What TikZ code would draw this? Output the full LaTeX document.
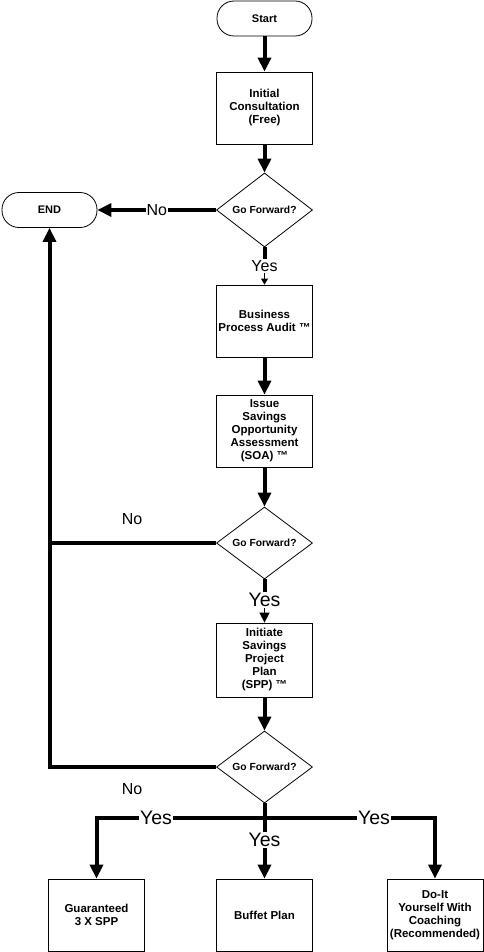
\documentclass[tikz,border=0pt]{standalone}
\usepackage{fontspec}
\setmainfont{Liberation Sans}
\usetikzlibrary{shapes.geometric,arrows.meta}
\begin{document}
\begin{tikzpicture}[x=1pt,y=-1pt,
  box/.style={draw, line width=0.8pt, minimum width=96pt, minimum height=72pt, inner sep=1pt, align=center, font=\fontsize{11.5}{13}\selectfont\bfseries},
  term/.style={draw, line width=0.8pt, rounded corners=17pt, minimum width=95pt, minimum height=35pt, font=\fontsize{11}{13}\selectfont\bfseries},
  dec/.style={draw, diamond, line width=0.8pt, minimum width=96pt, minimum height=72pt, inner sep=0pt, font=\fontsize{10.3}{12}\selectfont\bfseries},
  conn/.style={line width=4pt, -{Triangle[length=14pt,width=13pt]}},
  seg/.style={line width=4pt},
  lbl/.style={font=\fontsize{16}{18}\selectfont, inner sep=1pt},
  yes/.style={fill=white, font=\fontsize{19.5}{21}\selectfont, inner sep=1pt},
]
\useasboundingbox (0,0) rectangle (484,952);
% nodes
\node[term] (start) at (264.5,18.5) {Start};
\node[box] (init) at (264.5,108) {Initial\\Consultation\\(Free)};
\node[dec, minimum height=74pt] (d1) at (264.5,210) {Go Forward?};
\node[term] (end) at (49.5,210) {END};
\node[box] (bpa) at (264.5,321) {Business\\Process Audit ™};
\node[box] (soa) at (264.5,431) {Issue\\Savings\\Opportunity\\Assessment\\(SOA) ™};
\node[dec] (d2) at (264.5,543) {Go Forward?};
\node[box, minimum height=74pt] (spp) at (264.5,660) {Initiate\\Savings\\Project\\Plan\\(SPP) ™};
\node[dec] (d3) at (264.5,767) {Go Forward?};
\node[box] (g3) at (96.5,915) {Guaranteed\\3 X SPP};
\node[box] (buf) at (264.5,915) {Buffet Plan};
\node[box] (diy) at (435,915) {Do-It\\Yourself With\\Coaching\\(Recommended)};
% labels on vertical Yes connectors
\node[yes, font=\fontsize{16}{18}\selectfont] (y1) at (264.5,266) {Yes};
\node[yes] (y2) at (264.5,600) {Yes};
\node[yes] (y3) at (264.5,840) {Yes};
% connectors
\draw[conn] (start) -- (init);
\draw[conn] (init) -- (d1);
\draw[conn] (d1.west) -- node[lbl, fill=white] {No} (end.east);
\draw[seg] (d1.south) -- (y1.north);
\draw[line width=1pt, -{Triangle[length=6pt,width=7pt]}] (y1.south) -- (bpa.north);
\draw[conn] (bpa) -- (soa);
\draw[conn] (soa) -- (d2);
\draw[seg] (d2.south) -- (y2.north);
\draw[line width=1.5pt, -{Triangle[length=10pt,width=10pt]}] (y2.south) -- (spp.north);
\draw[conn] (spp) -- (d3);
\coordinate (r2) at (end.south |- d2.west);
\coordinate (r3) at (end.south |- d3.west);
\draw[seg] (d2.west) -- (r2);
\draw[conn] (d3.west) -- (r3) -- (end.south);
\node[lbl] (no2) at (132,519) {No};
\node[lbl] (no3) at (132,789) {No};
% bottom branches
\coordinate (j) at (264.5,818);
\draw[seg] (d3.south) -- (y3.north);
\draw[conn] (j) -- (g3.north |- j) -- (g3.north);
\draw[conn] (j) -- (diy.north |- j) -- (diy.north);
\draw[conn] (y3.south) -- (buf.north);
\node[yes] (yl) at (156,818) {Yes};
\node[yes] (yr) at (374,818) {Yes};
\end{tikzpicture}
\end{document}
